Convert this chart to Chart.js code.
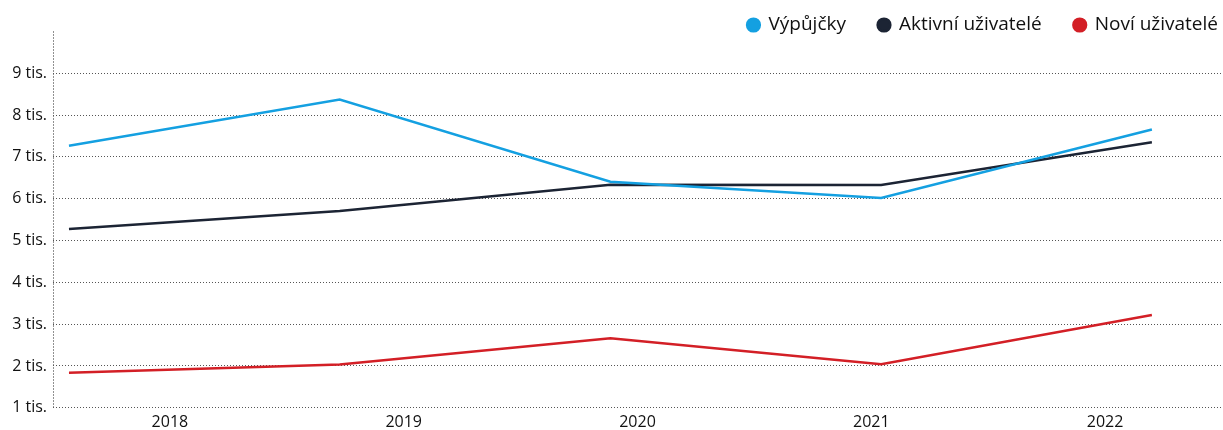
<!DOCTYPE html>
<html>
<head>
<meta charset="utf-8">
<script src="https://cdn.jsdelivr.net/npm/chart.js@4"></script>
<style>
  body { margin: 0; background: #fff; }
</style>
</head>
<body>
<canvas id="chart" width="1223" height="430"></canvas>
<script>
// data
const years = ['2018', '2019', '2020', '2021', '2022']
const vypujcky = [7270, 8375, 6405, 6020, 7655]
const aktivni = [5276, 5709, 6333, 6330, 7350]
const novi = [1840, 2033, 2665, 2040, 3218]

const fontFam = '"Open Sans", "Noto Sans", sans-serif'

function pts(vals){
    return vals.map((v, i) => ({x: i, y: v}))
}

function ds(label, vals, color){
    return {
        label: label,
        data: pts(vals),
        xAxisID: 'xp',
        borderColor: color,
        backgroundColor: color,
        borderWidth: 2.5,
        pointRadius: 0,
        tension: 0
    }
}

// legend box is kept short (maxHeight) so the plot starts right under it,
// but the legend clips to its box, so let it draw a bit lower
const legendClip = {
    id: 'legendClip',
    afterLayout(c){
        c.legend.bottom = c.legend.top + 30
    }
}

const chart = new Chart(document.getElementById('chart'), {
    type: 'line',
    data: {
        labels: years,
        datasets: [
            ds('Výpůjčky', vypujcky, '#14a0e1'),
            ds('Aktivní uživatelé', aktivni, '#1c2434'),
            ds('Noví uživatelé', novi, '#d31f26')
        ]
    },
    plugins: [legendClip],
    options: {
        responsive: false,
        animation: false,
        layout: {padding: {top: 11.5, right: 1, left: 0, bottom: -7}},
        plugins: {
            tooltip: {enabled: false},
            legend: {
                position: 'top',
                align: 'end',
                maxHeight: 20,
                labels: {
                    usePointStyle: true,
                    pointStyle: 'circle',
                    boxWidth: 11,
                    boxHeight: 9,
                    padding: 4,
                    color: '#111',
                    font: {family: fontFam, size: 19},
                    // wider gap between items without a big vertical padding
                    generateLabels: (c) => {
                        const items = Chart.defaults.plugins.legend.labels.generateLabels(c)
                        items.forEach((it, i) => {
                            if (i < items.length - 1) it.text += '\u2003\u2002'
                        })
                        return items
                    }
                }
            }
        },
        scales: {
            x: {
                type: 'category',
                offset: true,
                // only the left edge line is shown: it is the dotted y axis line
                border: {display: false, dash: [1, 2]},
                grid: {
                    offset: true,
                    drawTicks: false,
                    color: (c) => c.index === 0 ? '#222' : 'rgba(0,0,0,0)'
                },
                ticks: {
                    padding: 5,
                    color: '#111',
                    font: {family: fontFam, size: 16}
                }
            },
            xp: {
                type: 'linear',
                display: false,
                min: -0.059,
                max: 4.259
            },
            y: {
                min: 1000,
                max: 10000,
                afterBuildTicks: (axis) => {
                    axis.ticks = axis.ticks.filter(t => t.value < 10000)
                },
                afterFit: (axis) => { axis.width = 53 },
                border: {display: false, dash: [1, 2]},
                grid: {
                    drawTicks: false,
                    color: '#555',
                    lineWidth: 1
                },
                ticks: {
                    stepSize: 1000,
                    padding: 6,
                    color: '#111',
                    font: {family: fontFam, size: 16},
                    callback: (v) => (v / 1000) + ' tis.'
                }
            }
        }
    }
})
</script>
</body>
</html>
